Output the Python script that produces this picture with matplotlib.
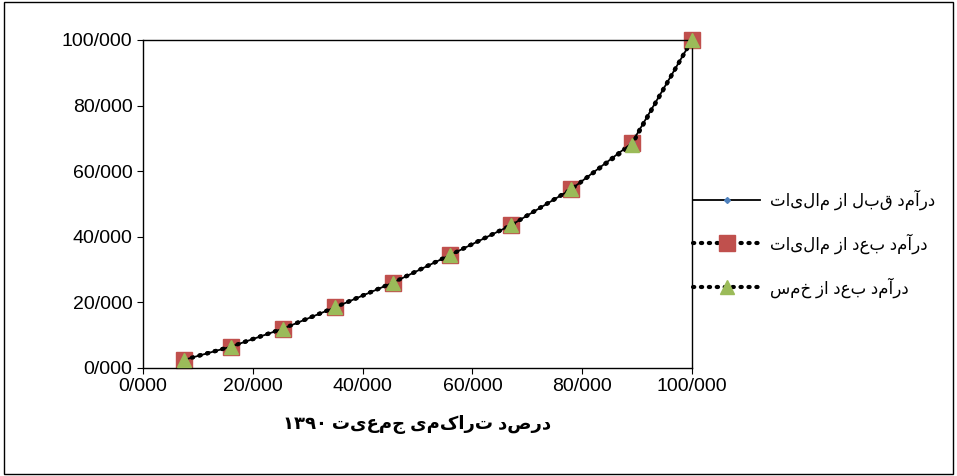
import matplotlib
matplotlib.use("Agg")
import matplotlib.pyplot as plt
from matplotlib.ticker import FuncFormatter
from matplotlib.patches import Rectangle

x = [7.5, 16, 25.5, 35, 45.5, 56, 67, 78, 89, 100]
y_before = [2.5, 6.5, 12, 18.5, 26, 34.5, 43.5, 54.5, 68.5, 100]
y_after = [2.5, 6.5, 12, 18.5, 26, 34.5, 43.5, 54.5, 68.5, 100]
y_khums = [2.5, 6.5, 12, 18.5, 26, 34.5, 43.5, 54.5, 68.0, 100]
labels = ["درآمد قبل از مالیات", "درآمد بعد از مالیات", "درآمد بعد از خمس"]
xlabel_words = "درصد تراکمی جمعیت"
xlabel_num = "۱۳۹۰"

def vis(s):
    return s[::-1]

plt.rcParams['font.family'] = ['Liberation Sans', 'DejaVu Sans']
fig = plt.figure(figsize=(9.57, 4.76), dpi=100)
fig.patches.append(Rectangle((0.004, 0.004), 0.992, 0.992, transform=fig.transFigure,
                             fill=False, edgecolor='#000000', lw=1))
ax = fig.add_axes([143/957, 108/476, 549/957, 328/476])

ax.plot(x, y_before, color='black', lw=1.3, marker='D', markersize=3,
        markerfacecolor='#4f81bd', markeredgecolor='#4f81bd', label=vis(labels[0]), zorder=3, clip_on=False)
ax.plot(x, y_after, color='black', lw=3, linestyle=(0, (0.3, 1.6)), dash_capstyle='round',
        marker='s', markersize=11, markerfacecolor='#c0504d', markeredgecolor='#c0504d',
        label=vis(labels[1]), zorder=2, clip_on=False)
ax.plot(x, y_khums, color='black', lw=3, linestyle=(0, (0.3, 1.6)), dash_capstyle='round',
        marker='^', markersize=10, markerfacecolor='#9bbb59', markeredgecolor='#9bbb59',
        label=vis(labels[2]), zorder=4, clip_on=False)

ax.set_xlim(0, 100)
ax.set_ylim(0, 100)
ax.set_xticks(range(0, 101, 20))
ax.set_yticks(range(0, 101, 20))
fmt = FuncFormatter(lambda v, p: f"{int(v)}/000")
ax.xaxis.set_major_formatter(fmt)
ax.yaxis.set_major_formatter(fmt)
ax.tick_params(labelsize=14, direction='out', length=4)
for s in ax.spines.values():
    s.set_linewidth(1)
ax.set_xlabel(xlabel_num + " " + vis(xlabel_words), fontsize=13, fontweight='bold', labelpad=14)
leg = ax.legend(loc='center left', bbox_to_anchor=(0.975, 0.38), frameon=False,
                fontsize=12, markerfirst=True, handlelength=4.0, handletextpad=0.6, labelspacing=1.4)
fig.savefig("out.png", dpi=100)
